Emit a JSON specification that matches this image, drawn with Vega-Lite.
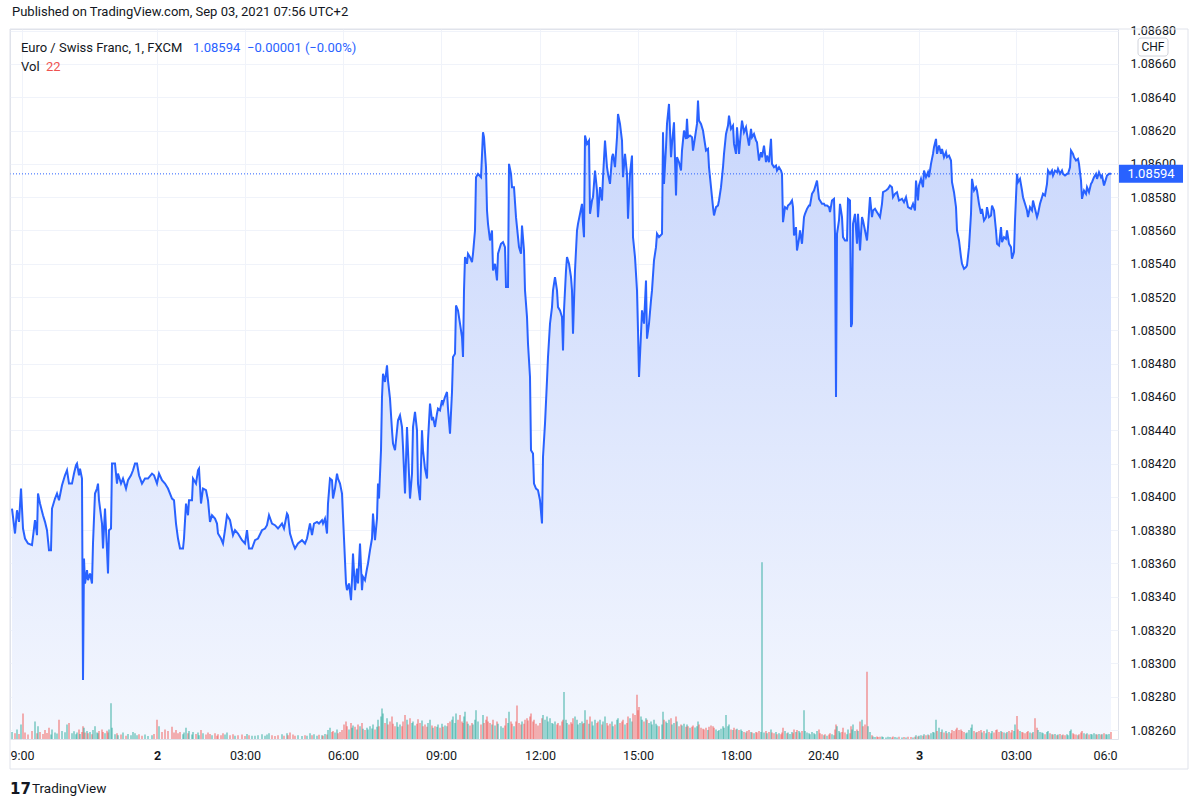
{
  "$schema": "https://vega.github.io/schema/vega-lite/v6.json",
  "width": 1108,
  "height": 710,
  "autosize": "none",
  "padding": {"left": 10, "top": 29, "right": 82, "bottom": 69},
  "background": "white",
  "title": {
    "text": "Published on TradingView.com, Sep 03, 2021 07:56 UTC+2",
    "anchor": "start",
    "frame": "group",
    "offset": 6,
    "dx": 2,
    "font": "Roboto",
    "fontSize": 13,
    "fontWeight": "normal",
    "color": "#131722"
  },
  "config": {
    "font": "Roboto",
    "view": {"stroke": "#e0e3eb"},
    "axis": {
      "gridColor": "#f0f3fa",
      "domain": false,
      "ticks": false,
      "labelColor": "#131722",
      "labelFont": "Roboto",
      "labelFontSize": 12.5,
      "labelOverlap": false,
      "labelFlush": false,
      "title": null
    },
    "axisY": {"labelOverlap": false}
  },
  "data": {
    "values": [
      {"b":2,"p":1.08393,"v":22,"u":1},{"b":5,"p":1.08378,"v":18,"u":0},{"b":7,"p":1.08392,"v":30,"u":1},{"b":9,"p":1.08385,"v":16,"u":0},
      {"b":11,"p":1.08405,"v":45,"u":1},{"b":13,"p":1.08381,"v":80,"u":0},{"b":15,"p":1.08375,"v":20,"u":0},{"b":18,"p":1.08372,"v":14,"u":0},
      {"b":22,"p":1.08371,"v":25,"u":0},{"b":25,"p":1.08386,"v":55,"u":1},{"b":27,"p":1.08377,"v":18,"u":0},{"b":28,"p":1.08402,"v":40,"u":1},
      {"b":30,"p":1.08396,"v":22,"u":0},{"b":33,"p":1.08389,"v":16,"u":0},{"b":35,"p":1.08385,"v":28,"u":0},{"b":37,"p":1.0838,"v":19,"u":0},
      {"b":39,"p":1.08368,"v":35,"u":0},{"b":41,"p":1.08368,"v":14,"u":1},{"b":42,"p":1.08393,"v":30,"u":1},{"b":45,"p":1.08399,"v":20,"u":1},
      {"b":47,"p":1.08402,"v":17,"u":1},{"b":49,"p":1.08398,"v":60,"u":0},{"b":52,"p":1.08407,"v":25,"u":1},{"b":55,"p":1.08413,"v":21,"u":1},
      {"b":57,"p":1.08416,"v":45,"u":1},{"b":59,"p":1.08408,"v":50,"u":0},{"b":62,"p":1.08408,"v":18,"u":1},{"b":64,"p":1.08414,"v":24,"u":1},
      {"b":66,"p":1.08419,"v":15,"u":1},{"b":67,"p":1.0842,"v":20,"u":1},{"b":69,"p":1.08413,"v":30,"u":0},{"b":70,"p":1.08417,"v":16,"u":1},
      {"b":72,"p":1.08411,"v":22,"u":0},{"b":73,"p":1.0829,"v":40,"u":0},{"b":74,"p":1.08363,"v":35,"u":1},{"b":75,"p":1.08348,"v":20,"u":0},
      {"b":77,"p":1.08356,"v":25,"u":1},{"b":78,"p":1.0835,"v":18,"u":0},{"b":80,"p":1.08354,"v":22,"u":1},{"b":82,"p":1.08348,"v":15,"u":0},
      {"b":83,"p":1.08372,"v":28,"u":1},{"b":85,"p":1.08402,"v":40,"u":1},{"b":87,"p":1.08405,"v":20,"u":1},{"b":88,"p":1.08408,"v":18,"u":1},
      {"b":89,"p":1.08398,"v":25,"u":0},{"b":92,"p":1.08384,"v":30,"u":0},{"b":93,"p":1.08369,"v":22,"u":0},{"b":95,"p":1.08393,"v":18,"u":1},
      {"b":97,"p":1.08368,"v":26,"u":0},{"b":98,"p":1.08354,"v":20,"u":0},{"b":99,"p":1.0838,"v":30,"u":1},{"b":101,"p":1.08381,"v":112,"u":1},
      {"b":102,"p":1.0842,"v":35,"u":1},{"b":105,"p":1.0842,"v":15,"u":1},{"b":107,"p":1.08408,"v":18,"u":0},{"b":108,"p":1.08414,"v":12,"u":1},
      {"b":111,"p":1.08408,"v":14,"u":0},{"b":113,"p":1.08411,"v":20,"u":1},{"b":116,"p":1.08405,"v":10,"u":0},{"b":118,"p":1.0841,"v":16,"u":1},
      {"b":121,"p":1.08413,"v":12,"u":1},{"b":123,"p":1.08416,"v":22,"u":1},{"b":125,"p":1.0842,"v":18,"u":1},{"b":127,"p":1.0842,"v":12,"u":1},
      {"b":129,"p":1.08413,"v":15,"u":0},{"b":132,"p":1.08408,"v":10,"u":0},{"b":135,"p":1.08411,"v":14,"u":1},{"b":138,"p":1.08411,"v":9,"u":1},
      {"b":142,"p":1.08414,"v":12,"u":1},{"b":144,"p":1.08413,"v":16,"u":0},{"b":147,"p":1.08408,"v":60,"u":0},{"b":149,"p":1.08414,"v":40,"u":1},
      {"b":152,"p":1.0841,"v":22,"u":0},{"b":155,"p":1.08408,"v":30,"u":0},{"b":158,"p":1.08405,"v":25,"u":0},{"b":162,"p":1.08399,"v":38,"u":0},
      {"b":164,"p":1.08398,"v":20,"u":0},{"b":166,"p":1.08384,"v":28,"u":0},{"b":168,"p":1.08375,"v":18,"u":0},{"b":170,"p":1.08369,"v":22,"u":0},
      {"b":173,"p":1.08369,"v":15,"u":1},{"b":174,"p":1.08375,"v":20,"u":1},{"b":176,"p":1.08396,"v":35,"u":1},{"b":178,"p":1.08389,"v":18,"u":0},
      {"b":179,"p":1.08398,"v":25,"u":1},{"b":182,"p":1.08398,"v":14,"u":1},{"b":183,"p":1.08411,"v":22,"u":1},{"b":186,"p":1.08408,"v":16,"u":0},
      {"b":188,"p":1.08416,"v":20,"u":1},{"b":189,"p":1.08417,"v":12,"u":1},{"b":191,"p":1.08396,"v":28,"u":0},{"b":193,"p":1.08405,"v":18,"u":1},
      {"b":196,"p":1.08404,"v":14,"u":0},{"b":198,"p":1.08398,"v":20,"u":0},{"b":200,"p":1.08385,"v":16,"u":0},{"b":202,"p":1.08389,"v":12,"u":1},
      {"b":205,"p":1.08387,"v":18,"u":0},{"b":207,"p":1.08384,"v":10,"u":0},{"b":208,"p":1.08378,"v":15,"u":0},{"b":211,"p":1.08375,"v":12,"u":0},
      {"b":213,"p":1.08372,"v":18,"u":0},{"b":215,"p":1.0838,"v":14,"u":1},{"b":217,"p":1.08389,"v":20,"u":1},{"b":220,"p":1.08386,"v":12,"u":0},
      {"b":223,"p":1.08377,"v":15,"u":0},{"b":225,"p":1.0838,"v":10,"u":1},{"b":228,"p":1.08378,"v":12,"u":0},{"b":232,"p":1.08374,"v":14,"u":0},
      {"b":235,"p":1.08372,"v":9,"u":0},{"b":237,"p":1.0838,"v":16,"u":1},{"b":239,"p":1.08369,"v":12,"u":0},{"b":242,"p":1.08369,"v":10,"u":1},
      {"b":245,"p":1.08374,"v":10,"u":1},{"b":248,"p":1.08375,"v":12,"u":1},{"b":252,"p":1.0838,"v":15,"u":1},{"b":255,"p":1.08381,"v":10,"u":1},
      {"b":257,"p":1.08383,"v":14,"u":1},{"b":259,"p":1.08389,"v":18,"u":1},{"b":262,"p":1.08384,"v":12,"u":0},{"b":265,"p":1.08383,"v":9,"u":0},
      {"b":268,"p":1.08381,"v":12,"u":0},{"b":272,"p":1.08384,"v":15,"u":1},{"b":274,"p":1.08381,"v":10,"u":0},{"b":277,"p":1.0839,"v":18,"u":1},
      {"b":278,"p":1.08389,"v":12,"u":0},{"b":280,"p":1.08378,"v":20,"u":0},{"b":283,"p":1.08372,"v":14,"u":0},{"b":285,"p":1.08369,"v":10,"u":0},
      {"b":288,"p":1.08372,"v":12,"u":1},{"b":292,"p":1.08374,"v":9,"u":1},{"b":295,"p":1.08372,"v":12,"u":0},{"b":297,"p":1.08375,"v":10,"u":1},
      {"b":300,"p":1.08384,"v":18,"u":1},{"b":302,"p":1.08377,"v":12,"u":0},{"b":304,"p":1.08384,"v":15,"u":1},{"b":307,"p":1.08385,"v":10,"u":1},
      {"b":309,"p":1.08384,"v":13,"u":0},{"b":312,"p":1.08386,"v":12,"u":1},{"b":313,"p":1.08384,"v":10,"u":0},{"b":315,"p":1.08387,"v":16,"u":1},
      {"b":317,"p":1.08378,"v":14,"u":0},{"b":318,"p":1.08396,"v":28,"u":1},{"b":320,"p":1.08411,"v":35,"u":1},{"b":322,"p":1.0841,"v":22,"u":0},
      {"b":323,"p":1.08399,"v":25,"u":0},{"b":325,"p":1.08405,"v":20,"u":1},{"b":327,"p":1.08414,"v":30,"u":1},{"b":328,"p":1.08411,"v":18,"u":0},
      {"b":330,"p":1.08408,"v":22,"u":0},{"b":332,"p":1.08402,"v":28,"u":0},{"b":334,"p":1.08375,"v":45,"u":0},{"b":336,"p":1.08348,"v":55,"u":0},
      {"b":337,"p":1.08344,"v":40,"u":0},{"b":339,"p":1.08348,"v":30,"u":1},{"b":341,"p":1.08338,"v":50,"u":0},{"b":342,"p":1.0835,"v":35,"u":1},
      {"b":343,"p":1.08366,"v":42,"u":1},{"b":345,"p":1.08344,"v":38,"u":0},{"b":347,"p":1.08357,"v":30,"u":1},{"b":348,"p":1.08348,"v":45,"u":0},
      {"b":350,"p":1.08372,"v":40,"u":1},{"b":352,"p":1.08344,"v":50,"u":0},{"b":353,"p":1.08352,"v":32,"u":1},{"b":355,"p":1.0835,"v":28,"u":0},
      {"b":357,"p":1.08357,"v":35,"u":1},{"b":358,"p":1.0836,"v":30,"u":1},{"b":360,"p":1.08368,"v":40,"u":1},{"b":362,"p":1.08375,"v":33,"u":1},
      {"b":363,"p":1.0839,"v":45,"u":1},{"b":365,"p":1.08374,"v":30,"u":0},{"b":367,"p":1.08387,"v":38,"u":1},{"b":368,"p":1.08408,"v":60,"u":1},
      {"b":369,"p":1.08399,"v":40,"u":0},{"b":371,"p":1.08428,"v":70,"u":1},{"b":372,"p":1.0846,"v":95,"u":1},{"b":373,"p":1.08474,"v":80,"u":1},
      {"b":375,"p":1.08469,"v":50,"u":0},{"b":377,"p":1.08479,"v":65,"u":1},{"b":378,"p":1.0847,"v":45,"u":0},{"b":380,"p":1.08459,"v":55,"u":0},
      {"b":382,"p":1.0844,"v":70,"u":0},{"b":383,"p":1.08432,"v":48,"u":0},{"b":385,"p":1.08428,"v":40,"u":0},{"b":387,"p":1.0844,"v":52,"u":1},
      {"b":388,"p":1.08446,"v":38,"u":1},{"b":390,"p":1.08449,"v":45,"u":1},{"b":392,"p":1.08442,"v":40,"u":0},{"b":393,"p":1.0843,"v":55,"u":0},
      {"b":395,"p":1.08402,"v":75,"u":0},{"b":397,"p":1.08442,"v":60,"u":1},{"b":398,"p":1.08428,"v":45,"u":0},{"b":400,"p":1.08399,"v":65,"u":0},
      {"b":402,"p":1.08414,"v":50,"u":1},{"b":403,"p":1.08442,"v":55,"u":1},{"b":405,"p":1.08451,"v":42,"u":1},{"b":407,"p":1.0844,"v":48,"u":0},
      {"b":408,"p":1.08408,"v":62,"u":0},{"b":410,"p":1.08398,"v":50,"u":0},{"b":412,"p":1.0844,"v":58,"u":1},{"b":413,"p":1.08428,"v":40,"u":0},
      {"b":415,"p":1.08417,"v":45,"u":0},{"b":417,"p":1.08411,"v":38,"u":0},{"b":418,"p":1.08434,"v":50,"u":1},{"b":420,"p":1.08456,"v":60,"u":1},
      {"b":422,"p":1.08446,"v":42,"u":0},{"b":423,"p":1.08448,"v":35,"u":1},{"b":425,"p":1.08442,"v":40,"u":0},{"b":427,"p":1.0845,"v":38,"u":1},
      {"b":428,"p":1.08453,"v":45,"u":1},{"b":430,"p":1.08452,"v":35,"u":0},{"b":432,"p":1.08458,"v":48,"u":1},{"b":433,"p":1.08456,"v":38,"u":0},
      {"b":435,"p":1.0846,"v":42,"u":1},{"b":437,"p":1.08463,"v":40,"u":1},{"b":438,"p":1.08453,"v":50,"u":0},{"b":440,"p":1.08438,"v":55,"u":0},
      {"b":442,"p":1.08463,"v":60,"u":1},{"b":443,"p":1.08484,"v":70,"u":1},{"b":445,"p":1.08486,"v":50,"u":1},{"b":446,"p":1.08515,"v":80,"u":1},
      {"b":448,"p":1.08512,"v":60,"u":0},{"b":450,"p":1.08504,"v":75,"u":0},{"b":452,"p":1.08496,"v":55,"u":0},{"b":453,"p":1.08484,"v":50,"u":0},
      {"b":454,"p":1.08524,"v":70,"u":1},{"b":455,"p":1.08544,"v":85,"u":1},{"b":457,"p":1.0854,"v":55,"u":0},{"b":458,"p":1.08546,"v":48,"u":1},
      {"b":460,"p":1.08544,"v":42,"u":0},{"b":462,"p":1.08541,"v":50,"u":0},{"b":463,"p":1.08546,"v":45,"u":1},{"b":465,"p":1.0856,"v":60,"u":1},
      {"b":466,"p":1.08592,"v":90,"u":1},{"b":468,"p":1.08594,"v":55,"u":1},{"b":471,"p":1.08592,"v":45,"u":0},{"b":473,"p":1.08619,"v":75,"u":1},
      {"b":474,"p":1.08616,"v":50,"u":0},{"b":476,"p":1.08598,"v":60,"u":0},{"b":477,"p":1.08572,"v":70,"u":0},{"b":478,"p":1.08564,"v":55,"u":0},
      {"b":480,"p":1.08554,"v":50,"u":0},{"b":482,"p":1.0856,"v":45,"u":1},{"b":483,"p":1.08536,"v":60,"u":0},{"b":485,"p":1.0854,"v":42,"u":1},
      {"b":487,"p":1.0853,"v":55,"u":0},{"b":488,"p":1.08546,"v":48,"u":1},{"b":491,"p":1.08552,"v":40,"u":1},{"b":493,"p":1.08553,"v":35,"u":1},
      {"b":495,"p":1.0855,"v":42,"u":0},{"b":496,"p":1.08526,"v":65,"u":0},{"b":498,"p":1.08526,"v":50,"u":1},{"b":499,"p":1.086,"v":85,"u":1},
      {"b":501,"p":1.08594,"v":55,"u":0},{"b":502,"p":1.08586,"v":48,"u":0},{"b":504,"p":1.08586,"v":40,"u":1},{"b":506,"p":1.08568,"v":55,"u":0},
      {"b":507,"p":1.08562,"v":105,"u":0},{"b":509,"p":1.0855,"v":50,"u":0},{"b":511,"p":1.08546,"v":45,"u":0},{"b":512,"p":1.08563,"v":55,"u":1},
      {"b":514,"p":1.08548,"v":48,"u":0},{"b":515,"p":1.08524,"v":60,"u":0},{"b":517,"p":1.08508,"v":65,"u":0},{"b":518,"p":1.08492,"v":58,"u":0},
      {"b":520,"p":1.08472,"v":70,"u":0},{"b":521,"p":1.08428,"v":80,"u":0},{"b":523,"p":1.08426,"v":55,"u":0},{"b":524,"p":1.08408,"v":60,"u":0},
      {"b":526,"p":1.08405,"v":48,"u":0},{"b":528,"p":1.08404,"v":42,"u":0},{"b":530,"p":1.08398,"v":50,"u":0},{"b":532,"p":1.08384,"v":65,"u":0},
      {"b":533,"p":1.08424,"v":75,"u":1},{"b":535,"p":1.08444,"v":60,"u":1},{"b":537,"p":1.0847,"v":70,"u":1},{"b":538,"p":1.08484,"v":55,"u":1},
      {"b":540,"p":1.08504,"v":65,"u":1},{"b":542,"p":1.08514,"v":50,"u":1},{"b":543,"p":1.08524,"v":48,"u":1},{"b":545,"p":1.08532,"v":55,"u":1},
      {"b":547,"p":1.08524,"v":45,"u":0},{"b":548,"p":1.08514,"v":50,"u":0},{"b":550,"p":1.08512,"v":42,"u":0},{"b":552,"p":1.08508,"v":55,"u":0},
      {"b":553,"p":1.08488,"v":60,"u":0},{"b":554,"p":1.08512,"v":147,"u":1},{"b":556,"p":1.08536,"v":60,"u":1},{"b":557,"p":1.08544,"v":50,"u":1},
      {"b":559,"p":1.0854,"v":45,"u":0},{"b":561,"p":1.08532,"v":52,"u":0},{"b":562,"p":1.08524,"v":48,"u":0},{"b":563,"p":1.08498,"v":65,"u":0},
      {"b":565,"p":1.08536,"v":70,"u":1},{"b":567,"p":1.0856,"v":60,"u":1},{"b":568,"p":1.08564,"v":45,"u":1},{"b":570,"p":1.0857,"v":50,"u":1},
      {"b":572,"p":1.08576,"v":55,"u":1},{"b":573,"p":1.08564,"v":48,"u":0},{"b":574,"p":1.08556,"v":50,"u":0},{"b":575,"p":1.08617,"v":90,"u":1},
      {"b":577,"p":1.08612,"v":60,"u":0},{"b":579,"p":1.08614,"v":48,"u":1},{"b":580,"p":1.0857,"v":70,"u":0},{"b":582,"p":1.08578,"v":55,"u":1},
      {"b":583,"p":1.0858,"v":42,"u":1},{"b":585,"p":1.08596,"v":60,"u":1},{"b":587,"p":1.08584,"v":50,"u":0},{"b":588,"p":1.08568,"v":55,"u":0},
      {"b":590,"p":1.08586,"v":60,"u":1},{"b":592,"p":1.08578,"v":45,"u":0},{"b":593,"p":1.08592,"v":55,"u":1},{"b":595,"p":1.08614,"v":70,"u":1},
      {"b":597,"p":1.08598,"v":50,"u":0},{"b":598,"p":1.08594,"v":42,"u":0},{"b":600,"p":1.08588,"v":48,"u":0},{"b":602,"p":1.08604,"v":55,"u":1},
      {"b":603,"p":1.08606,"v":40,"u":1},{"b":605,"p":1.08598,"v":45,"u":0},{"b":607,"p":1.08616,"v":60,"u":1},{"b":608,"p":1.0863,"v":65,"u":1},
      {"b":610,"p":1.08624,"v":50,"u":0},{"b":612,"p":1.08614,"v":55,"u":0},{"b":613,"p":1.08592,"v":60,"u":0},{"b":615,"p":1.08606,"v":45,"u":1},
      {"b":617,"p":1.08594,"v":50,"u":0},{"b":618,"p":1.08567,"v":70,"u":0},{"b":620,"p":1.08594,"v":65,"u":1},{"b":622,"p":1.08605,"v":55,"u":1},
      {"b":623,"p":1.08556,"v":80,"u":0},{"b":625,"p":1.08544,"v":75,"u":0},{"b":627,"p":1.08524,"v":138,"u":0},{"b":628,"p":1.085,"v":90,"u":0},
      {"b":629,"p":1.08472,"v":100,"u":0},{"b":631,"p":1.08498,"v":70,"u":1},{"b":632,"p":1.08512,"v":60,"u":1},{"b":634,"p":1.08504,"v":55,"u":0},
      {"b":636,"p":1.0853,"v":65,"u":1},{"b":637,"p":1.08495,"v":60,"u":0},{"b":639,"p":1.08504,"v":50,"u":1},{"b":641,"p":1.08518,"v":55,"u":1},
      {"b":642,"p":1.08524,"v":45,"u":1},{"b":644,"p":1.08542,"v":60,"u":1},{"b":646,"p":1.0855,"v":48,"u":1},{"b":647,"p":1.08558,"v":42,"u":1},
      {"b":649,"p":1.08556,"v":40,"u":0},{"b":652,"p":1.08558,"v":45,"u":1},{"b":653,"p":1.08619,"v":85,"u":1},{"b":654,"p":1.08588,"v":60,"u":0},
      {"b":656,"p":1.0861,"v":55,"u":1},{"b":657,"p":1.08624,"v":50,"u":1},{"b":659,"p":1.08636,"v":60,"u":1},{"b":661,"p":1.08604,"v":65,"u":0},
      {"b":662,"p":1.08612,"v":45,"u":1},{"b":664,"p":1.08625,"v":50,"u":1},{"b":666,"p":1.08581,"v":70,"u":0},{"b":667,"p":1.08604,"v":55,"u":1},
      {"b":669,"p":1.08601,"v":40,"u":0},{"b":671,"p":1.08596,"v":45,"u":0},{"b":672,"p":1.08608,"v":42,"u":1},{"b":674,"p":1.0862,"v":48,"u":1},
      {"b":676,"p":1.08615,"v":38,"u":0},{"b":677,"p":1.08627,"v":45,"u":1},{"b":678,"p":1.08616,"v":40,"u":0},{"b":680,"p":1.08617,"v":35,"u":1},
      {"b":682,"p":1.08616,"v":38,"u":0},{"b":683,"p":1.08608,"v":42,"u":0},{"b":685,"p":1.08616,"v":36,"u":1},{"b":687,"p":1.08624,"v":40,"u":1},
      {"b":688,"p":1.08638,"v":55,"u":1},{"b":689,"p":1.08626,"v":45,"u":0},{"b":691,"p":1.08624,"v":35,"u":0},{"b":693,"p":1.0862,"v":32,"u":0},
      {"b":694,"p":1.08616,"v":30,"u":0},{"b":696,"p":1.08608,"v":35,"u":0},{"b":698,"p":1.08609,"v":28,"u":1},{"b":699,"p":1.08598,"v":38,"u":0},
      {"b":701,"p":1.08586,"v":42,"u":0},{"b":703,"p":1.08574,"v":40,"u":0},{"b":704,"p":1.08569,"v":35,"u":0},{"b":706,"p":1.08574,"v":30,"u":1},
      {"b":708,"p":1.08575,"v":25,"u":1},{"b":709,"p":1.08578,"v":28,"u":1},{"b":711,"p":1.08586,"v":32,"u":1},{"b":713,"p":1.08598,"v":40,"u":1},
      {"b":714,"p":1.08606,"v":35,"u":1},{"b":716,"p":1.08618,"v":75,"u":1},{"b":718,"p":1.08623,"v":40,"u":1},{"b":719,"p":1.08629,"v":45,"u":1},
      {"b":721,"p":1.08621,"v":30,"u":0},{"b":723,"p":1.08623,"v":28,"u":1},{"b":724,"p":1.08612,"v":35,"u":0},{"b":726,"p":1.08606,"v":30,"u":0},
      {"b":727,"p":1.08622,"v":32,"u":1},{"b":729,"p":1.08606,"v":28,"u":0},{"b":731,"p":1.0862,"v":30,"u":1},{"b":732,"p":1.08626,"v":25,"u":1},
      {"b":734,"p":1.08619,"v":22,"u":0},{"b":736,"p":1.08622,"v":20,"u":1},{"b":737,"p":1.08618,"v":25,"u":0},{"b":739,"p":1.08611,"v":28,"u":0},
      {"b":741,"p":1.08621,"v":22,"u":1},{"b":742,"p":1.08616,"v":20,"u":0},{"b":744,"p":1.08618,"v":18,"u":1},{"b":746,"p":1.08614,"v":22,"u":0},
      {"b":747,"p":1.08613,"v":20,"u":0},{"b":749,"p":1.08602,"v":25,"u":0},{"b":751,"p":1.08607,"v":22,"u":1},{"b":752,"p":1.08604,"v":553,"u":1},
      {"b":754,"p":1.08611,"v":20,"u":1},{"b":756,"p":1.08601,"v":25,"u":0},{"b":757,"p":1.08605,"v":18,"u":1},{"b":759,"p":1.08601,"v":22,"u":0},
      {"b":761,"p":1.08615,"v":30,"u":1},{"b":762,"p":1.086,"v":20,"u":0},{"b":764,"p":1.08598,"v":18,"u":0},{"b":766,"p":1.08599,"v":22,"u":1},
      {"b":767,"p":1.08596,"v":15,"u":0},{"b":769,"p":1.08598,"v":18,"u":1},{"b":771,"p":1.08596,"v":15,"u":0},{"b":772,"p":1.08594,"v":20,"u":0},
      {"b":773,"p":1.08565,"v":35,"u":0},{"b":775,"p":1.08574,"v":25,"u":1},{"b":777,"p":1.08573,"v":18,"u":0},{"b":778,"p":1.08575,"v":20,"u":1},
      {"b":780,"p":1.08576,"v":16,"u":1},{"b":782,"p":1.08578,"v":22,"u":1},{"b":783,"p":1.08574,"v":18,"u":0},{"b":784,"p":1.08557,"v":30,"u":0},
      {"b":786,"p":1.08562,"v":22,"u":1},{"b":787,"p":1.08548,"v":28,"u":0},{"b":789,"p":1.08555,"v":25,"u":1},{"b":790,"p":1.0856,"v":20,"u":1},
      {"b":792,"p":1.08552,"v":25,"u":0},{"b":794,"p":1.08568,"v":90,"u":1},{"b":795,"p":1.0857,"v":25,"u":1},{"b":797,"p":1.08573,"v":20,"u":1},
      {"b":799,"p":1.08575,"v":18,"u":1},{"b":800,"p":1.08575,"v":15,"u":1},{"b":802,"p":1.08582,"v":22,"u":1},{"b":804,"p":1.08584,"v":18,"u":1},
      {"b":805,"p":1.08586,"v":15,"u":1},{"b":807,"p":1.0859,"v":25,"u":1},{"b":809,"p":1.08579,"v":30,"u":0},{"b":810,"p":1.08578,"v":18,"u":0},
      {"b":812,"p":1.08576,"v":15,"u":0},{"b":814,"p":1.08576,"v":12,"u":1},{"b":815,"p":1.08575,"v":15,"u":0},{"b":817,"p":1.08575,"v":10,"u":1},
      {"b":819,"p":1.08574,"v":14,"u":0},{"b":820,"p":1.08571,"v":18,"u":0},{"b":822,"p":1.08578,"v":15,"u":1},{"b":824,"p":1.08579,"v":12,"u":1},
      {"b":825,"p":1.08558,"v":30,"u":0},{"b":826,"p":1.0846,"v":45,"u":0},{"b":827,"p":1.08558,"v":40,"u":1},{"b":829,"p":1.08566,"v":25,"u":1},
      {"b":830,"p":1.08576,"v":20,"u":1},{"b":832,"p":1.08568,"v":22,"u":0},{"b":833,"p":1.08556,"v":35,"u":0},{"b":835,"p":1.08554,"v":20,"u":0},
      {"b":837,"p":1.08554,"v":15,"u":1},{"b":838,"p":1.08579,"v":30,"u":1},{"b":840,"p":1.08578,"v":18,"u":0},{"b":841,"p":1.08502,"v":40,"u":0},
      {"b":842,"p":1.08504,"v":30,"u":1},{"b":843,"p":1.08564,"v":45,"u":1},{"b":845,"p":1.0857,"v":25,"u":1},{"b":847,"p":1.08552,"v":30,"u":0},
      {"b":848,"p":1.0857,"v":25,"u":1},{"b":850,"p":1.08548,"v":55,"u":0},{"b":852,"p":1.08568,"v":60,"u":1},{"b":853,"p":1.08566,"v":40,"u":0},
      {"b":855,"p":1.0856,"v":45,"u":0},{"b":857,"p":1.08554,"v":210,"u":0},{"b":858,"p":1.08562,"v":40,"u":1},{"b":860,"p":1.0858,"v":22,"u":1},
      {"b":862,"p":1.08568,"v":12,"u":0},{"b":863,"p":1.08572,"v":8,"u":1},{"b":865,"p":1.08573,"v":6,"u":1},{"b":867,"p":1.08571,"v":8,"u":0},
      {"b":868,"p":1.0857,"v":6,"u":0},{"b":870,"p":1.08568,"v":7,"u":0},{"b":872,"p":1.08576,"v":8,"u":1},{"b":873,"p":1.08583,"v":6,"u":1},
      {"b":876,"p":1.08584,"v":5,"u":1},{"b":878,"p":1.08585,"v":7,"u":1},{"b":880,"p":1.08587,"v":6,"u":1},{"b":882,"p":1.08586,"v":5,"u":0},
      {"b":883,"p":1.0858,"v":8,"u":0},{"b":885,"p":1.08582,"v":6,"u":1},{"b":887,"p":1.08583,"v":5,"u":1},{"b":889,"p":1.08578,"v":7,"u":0},
      {"b":892,"p":1.08579,"v":5,"u":1},{"b":894,"p":1.08577,"v":6,"u":0},{"b":896,"p":1.0858,"v":5,"u":1},{"b":898,"p":1.08574,"v":7,"u":0},
      {"b":901,"p":1.08573,"v":6,"u":0},{"b":903,"p":1.08576,"v":5,"u":1},{"b":905,"p":1.08572,"v":7,"u":0},{"b":906,"p":1.0859,"v":12,"u":1},
      {"b":908,"p":1.08578,"v":8,"u":0},{"b":909,"p":1.08587,"v":10,"u":1},{"b":911,"p":1.08591,"v":12,"u":1},{"b":913,"p":1.08586,"v":10,"u":0},
      {"b":914,"p":1.08596,"v":15,"u":1},{"b":916,"p":1.08592,"v":12,"u":0},{"b":918,"p":1.08595,"v":14,"u":1},{"b":919,"p":1.08592,"v":12,"u":0},
      {"b":921,"p":1.086,"v":18,"u":1},{"b":923,"p":1.08606,"v":22,"u":1},{"b":924,"p":1.0861,"v":20,"u":1},{"b":926,"p":1.08615,"v":60,"u":1},
      {"b":927,"p":1.08606,"v":25,"u":0},{"b":929,"p":1.08611,"v":35,"u":1},{"b":931,"p":1.08606,"v":22,"u":0},{"b":932,"p":1.08609,"v":30,"u":1},
      {"b":934,"p":1.08604,"v":20,"u":0},{"b":936,"p":1.08607,"v":25,"u":1},{"b":937,"p":1.08604,"v":18,"u":0},{"b":939,"p":1.08605,"v":22,"u":1},
      {"b":941,"p":1.08602,"v":18,"u":0},{"b":942,"p":1.08589,"v":28,"u":0},{"b":944,"p":1.08583,"v":25,"u":0},{"b":946,"p":1.08574,"v":30,"u":0},
      {"b":947,"p":1.0856,"v":35,"u":0},{"b":949,"p":1.08554,"v":28,"u":0},{"b":951,"p":1.08544,"v":30,"u":0},{"b":952,"p":1.0854,"v":25,"u":0},
      {"b":954,"p":1.08537,"v":22,"u":0},{"b":956,"p":1.08538,"v":18,"u":1},{"b":957,"p":1.08539,"v":20,"u":1},{"b":959,"p":1.0855,"v":28,"u":1},
      {"b":961,"p":1.0857,"v":35,"u":1},{"b":962,"p":1.08591,"v":45,"u":1},{"b":964,"p":1.08584,"v":25,"u":0},{"b":966,"p":1.08586,"v":20,"u":1},
      {"b":967,"p":1.08584,"v":22,"u":0},{"b":969,"p":1.08576,"v":25,"u":0},{"b":971,"p":1.0857,"v":28,"u":0},{"b":972,"p":1.08573,"v":20,"u":1},
      {"b":974,"p":1.08566,"v":25,"u":0},{"b":976,"p":1.08568,"v":18,"u":1},{"b":977,"p":1.08574,"v":30,"u":1},{"b":979,"p":1.08568,"v":22,"u":0},
      {"b":981,"p":1.08569,"v":18,"u":1},{"b":982,"p":1.08575,"v":25,"u":1},{"b":984,"p":1.08572,"v":20,"u":0},{"b":986,"p":1.0856,"v":28,"u":0},
      {"b":987,"p":1.08552,"v":30,"u":0},{"b":989,"p":1.08551,"v":22,"u":0},{"b":991,"p":1.08562,"v":25,"u":1},{"b":992,"p":1.08553,"v":22,"u":0},
      {"b":994,"p":1.08556,"v":20,"u":1},{"b":996,"p":1.08555,"v":18,"u":0},{"b":997,"p":1.0856,"v":22,"u":1},{"b":999,"p":1.08552,"v":25,"u":0},
      {"b":1001,"p":1.0855,"v":20,"u":0},{"b":1002,"p":1.08543,"v":28,"u":0},{"b":1004,"p":1.08547,"v":25,"u":1},{"b":1005,"p":1.08566,"v":45,"u":1},
      {"b":1007,"p":1.08594,"v":72,"u":0},{"b":1008,"p":1.08589,"v":30,"u":0},{"b":1010,"p":1.08591,"v":25,"u":1},{"b":1012,"p":1.08584,"v":22,"u":0},
      {"b":1013,"p":1.0858,"v":20,"u":0},{"b":1015,"p":1.08576,"v":18,"u":0},{"b":1017,"p":1.08572,"v":22,"u":0},{"b":1018,"p":1.08568,"v":25,"u":0},
      {"b":1020,"p":1.08574,"v":20,"u":1},{"b":1022,"p":1.08572,"v":18,"u":0},{"b":1023,"p":1.08578,"v":22,"u":1},{"b":1025,"p":1.08573,"v":65,"u":0},
      {"b":1027,"p":1.08568,"v":35,"u":0},{"b":1028,"p":1.0857,"v":28,"u":1},{"b":1030,"p":1.08576,"v":22,"u":1},{"b":1032,"p":1.0858,"v":20,"u":1},
      {"b":1033,"p":1.08582,"v":18,"u":1},{"b":1035,"p":1.08581,"v":15,"u":0},{"b":1037,"p":1.08588,"v":22,"u":1},{"b":1038,"p":1.08596,"v":25,"u":1},
      {"b":1040,"p":1.08594,"v":18,"u":0},{"b":1042,"p":1.08596,"v":15,"u":1},{"b":1043,"p":1.08593,"v":14,"u":0},{"b":1045,"p":1.08596,"v":16,"u":1},
      {"b":1047,"p":1.08595,"v":12,"u":0},{"b":1048,"p":1.08597,"v":14,"u":1},{"b":1050,"p":1.08594,"v":16,"u":0},{"b":1052,"p":1.08596,"v":12,"u":1},
      {"b":1053,"p":1.08594,"v":14,"u":0},{"b":1055,"p":1.08593,"v":12,"u":0},{"b":1057,"p":1.08594,"v":15,"u":1},{"b":1058,"p":1.08594,"v":12,"u":1},
      {"b":1060,"p":1.08598,"v":25,"u":1},{"b":1061,"p":1.08608,"v":30,"u":1},{"b":1063,"p":1.08606,"v":18,"u":0},{"b":1064,"p":1.08604,"v":15,"u":0},
      {"b":1066,"p":1.08602,"v":14,"u":0},{"b":1068,"p":1.08603,"v":12,"u":1},{"b":1069,"p":1.086,"v":15,"u":0},{"b":1071,"p":1.0859,"v":20,"u":0},
      {"b":1072,"p":1.08579,"v":25,"u":0},{"b":1074,"p":1.08584,"v":18,"u":1},{"b":1076,"p":1.08582,"v":15,"u":0},{"b":1077,"p":1.08586,"v":18,"u":1},
      {"b":1079,"p":1.08583,"v":14,"u":0},{"b":1081,"p":1.08588,"v":16,"u":1},{"b":1082,"p":1.08589,"v":14,"u":1},{"b":1084,"p":1.08592,"v":18,"u":1},
      {"b":1086,"p":1.08594,"v":15,"u":1},{"b":1087,"p":1.08591,"v":14,"u":0},{"b":1089,"p":1.08595,"v":16,"u":1},{"b":1091,"p":1.08592,"v":14,"u":0},
      {"b":1092,"p":1.08593,"v":15,"u":1},{"b":1094,"p":1.08587,"v":18,"u":0},{"b":1096,"p":1.08591,"v":15,"u":1},{"b":1097,"p":1.08593,"v":14,"u":1},
      {"b":1099,"p":1.08594,"v":16,"u":1},{"b":1101,"p":1.08594,"v":22,"u":0}
    ]
  },
  "layer": [
    {
      "encoding": {
        "x": {
          "field": "b",
          "type": "quantitative",
          "scale": {"domain": [0, 1108], "nice": false, "zero": false},
          "axis": {
            "orient": "bottom",
            "values": [12, 147, 235, 333, 431, 530, 628, 726, 813, 909, 1006, 1107],
            "labelExpr": "{'12':'9:00','147':'2','235':'03:00','333':'06:00','431':'09:00','530':'12:00','628':'15:00','726':'18:00','813':'20:40','909':'3','1006':'03:00','1107':'06:0'}[datum.value]",
            "labelPadding": 10,
            "labelFontWeight": {"condition": {"test": "datum.value == 147 || datum.value == 909", "value": "bold"}, "value": "normal"},
            "labelAlign": {"condition": {"test": "datum.value == 1107", "value": "right"}, "value": "center"},
            "gridOpacity": {"condition": {"test": "datum.value == 1107", "value": 0}, "value": 1}
          }
        }
      },
      "layer": [
        {
          "mark": {
            "type": "area",
            "color": {
              "gradient": "linear",
              "x1": 0, "y1": 0, "x2": 0, "y2": 1,
              "stops": [
                {"offset": 0, "color": "#c8d6fc"},
                {"offset": 1, "color": "#f4f7fe"}
              ]
            }
          },
          "encoding": {
            "y": {
              "field": "p",
              "type": "quantitative",
              "scale": {"domain": [1.082546, 1.08681], "nice": false, "zero": false},
              "axis": {"orient": "right", "values": [1.0826, 1.0828, 1.083, 1.0832, 1.0834, 1.0836, 1.0838, 1.084, 1.0842, 1.0844, 1.0846, 1.0848, 1.085, 1.0852, 1.0854, 1.0856, 1.0858, 1.086, 1.0862, 1.0864, 1.0866, 1.0868], "format": ".5f", "labelPadding": 12, "labelOverlap": false}
            },
            "y2": {"datum": 1.082546}
          }
        },
        {
          "mark": {"type": "line", "color": "#2962ff", "strokeWidth": 2},
          "encoding": {
            "y": {
              "field": "p",
              "type": "quantitative",
              "scale": {"domain": [1.082546, 1.08681], "nice": false, "zero": false},
              "axis": {"orient": "right", "values": [1.0826, 1.0828, 1.083, 1.0832, 1.0834, 1.0836, 1.0838, 1.084, 1.0842, 1.0844, 1.0846, 1.0848, 1.085, 1.0852, 1.0854, 1.0856, 1.0858, 1.086, 1.0862, 1.0864, 1.0866, 1.0868], "format": ".5f", "labelPadding": 12, "labelOverlap": false}
            }
          }
        },
        {
          "data": {"values": [{"p": 1.08594}]},
          "mark": {"type": "rule", "color": "#2962ff", "strokeWidth": 1, "strokeDash": [1, 2]},
          "encoding": {
            "y": {
              "field": "p",
              "type": "quantitative",
              "scale": {"domain": [1.082546, 1.08681], "nice": false, "zero": false},
              "axis": {"orient": "right", "values": [1.0826, 1.0828, 1.083, 1.0832, 1.0834, 1.0836, 1.0838, 1.084, 1.0842, 1.0844, 1.0846, 1.0848, 1.085, 1.0852, 1.0854, 1.0856, 1.0858, 1.086, 1.0862, 1.0864, 1.0866, 1.0868], "format": ".5f", "labelPadding": 12, "labelOverlap": false}
            },
            "x": null
          }
        },
        {
          "data": {"values": [{"p": 1.08594}]},
          "mark": {"type": "rect", "color": "#2962ff", "x": 1109, "x2": 1173, "yOffset": -9, "y2Offset": 9},
          "encoding": {
            "y": {
              "field": "p",
              "type": "quantitative",
              "scale": {"domain": [1.082546, 1.08681], "nice": false, "zero": false},
              "axis": {"orient": "right", "values": [1.0826, 1.0828, 1.083, 1.0832, 1.0834, 1.0836, 1.0838, 1.084, 1.0842, 1.0844, 1.0846, 1.0848, 1.085, 1.0852, 1.0854, 1.0856, 1.0858, 1.086, 1.0862, 1.0864, 1.0866, 1.0868], "format": ".5f", "labelPadding": 12, "labelOverlap": false}
            },
            "y2": {"field": "p"},
            "x": null
          }
        },
        {
          "data": {"values": [{"p": 1.08594}]},
          "mark": {"type": "text", "color": "white", "x": 1141, "align": "center", "baseline": "middle", "fontSize": 13, "font": "Roboto"},
          "encoding": {
            "y": {
              "field": "p",
              "type": "quantitative",
              "scale": {"domain": [1.082546, 1.08681], "nice": false, "zero": false},
              "axis": {"orient": "right", "values": [1.0826, 1.0828, 1.083, 1.0832, 1.0834, 1.0836, 1.0838, 1.084, 1.0842, 1.0844, 1.0846, 1.0848, 1.085, 1.0852, 1.0854, 1.0856, 1.0858, 1.086, 1.0862, 1.0864, 1.0866, 1.0868], "format": ".5f", "labelPadding": 12, "labelOverlap": false}
            },
            "text": {"field": "p", "format": ".5f"},
            "x": null
          }
        }
      ]
    },
    {
      "mark": {"type": "rule", "strokeWidth": 1.5, "opacity": 0.6},
      "encoding": {
        "x": {"field": "b", "type": "quantitative", "scale": {"domain": [0, 1108], "nice": false, "zero": false}},
        "y": {"field": "v", "type": "quantitative", "scale": {"domain": [0, 2220], "nice": false}, "axis": null},
        "y2": {"datum": 0},
        "color": {"condition": {"test": "datum.u == 1", "value": "#26a69a"}, "value": "#ef5350"}
      }
    },
    {
      "data": {"values": [{}]},
      "mark": {"type": "rect", "x": 0, "x2": 1178, "y": 0, "y2": 740, "fill": null, "fillOpacity": 0, "stroke": "#e0e3eb", "strokeWidth": 1}
    },
    {
      "data": {"values": [{}]},
      "mark": {"type": "rule", "x": 1108, "y": 710, "y2": 740, "color": "#e0e3eb", "strokeWidth": 1},
      "encoding": {}
    },
    {
      "data": {"values": [{}]},
      "mark": {"type": "text", "text": "Euro / Swiss Franc, 1, FXCM", "x": 11, "y": 19, "align": "left", "baseline": "middle", "fontSize": 13, "font": "Roboto", "color": "#131722"}
    },
    {
      "data": {"values": [{}]},
      "mark": {"type": "text", "text": "1.08594", "x": 183, "y": 19, "align": "left", "baseline": "middle", "fontSize": 13, "font": "Roboto", "color": "#2962ff"}
    },
    {
      "data": {"values": [{}]},
      "mark": {"type": "text", "text": "\u22120.00001 (\u22120.00%)", "x": 237, "y": 19, "align": "left", "baseline": "middle", "fontSize": 13, "font": "Roboto", "color": "#2962ff"}
    },
    {
      "data": {"values": [{}]},
      "mark": {"type": "text", "text": "Vol", "x": 11, "y": 38, "align": "left", "baseline": "middle", "fontSize": 13, "font": "Roboto", "color": "#131722"}
    },
    {
      "data": {"values": [{}]},
      "mark": {"type": "text", "text": "22", "x": 36, "y": 38, "align": "left", "baseline": "middle", "fontSize": 13, "font": "Roboto", "color": "#ef5350"}
    },
    {
      "data": {"values": [{}]},
      "mark": {"type": "rect", "x": 1128, "x2": 1158, "y": 9, "y2": 27, "fill": "white", "stroke": "#d1d4dc", "strokeWidth": 1, "cornerRadius": 3}
    },
    {
      "data": {"values": [{}]},
      "mark": {"type": "text", "text": "CHF", "x": 1143, "y": 18, "align": "center", "baseline": "middle", "fontSize": 12, "font": "Roboto", "color": "#131722"}
    },
    {
      "data": {"values": [{}]},
      "mark": {"type": "text", "text": "17", "x": 0, "y": 760, "align": "left", "baseline": "middle", "fontSize": 15, "fontWeight": 900, "font": "DejaVu Sans", "color": "#131722"}
    },
    {
      "data": {"values": [{}]},
      "mark": {"type": "text", "text": "TradingView", "x": 22, "y": 760, "align": "left", "baseline": "middle", "fontSize": 13.5, "font": "Roboto", "color": "#131722"}
    }
  ],
  "resolve": {"scale": {"y": "independent"}}
}
